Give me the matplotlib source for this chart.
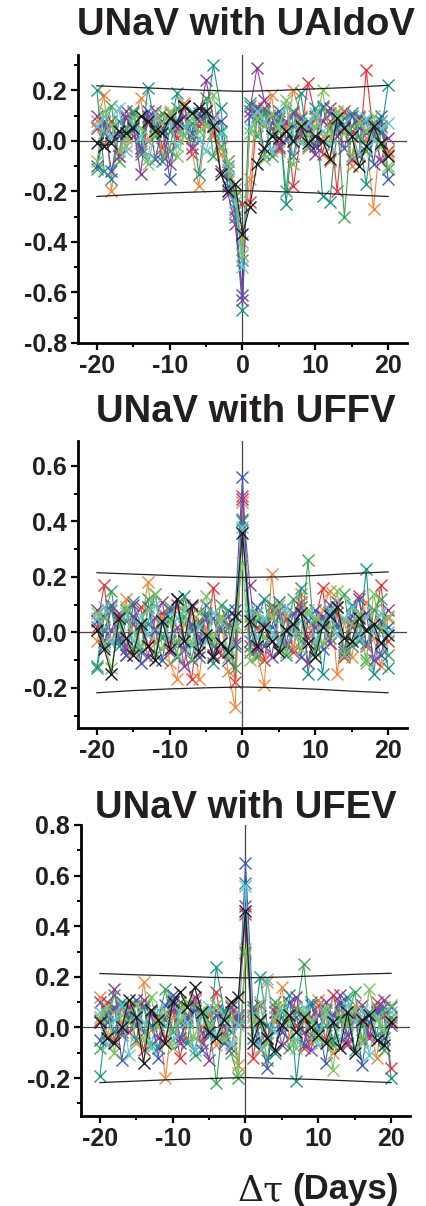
import matplotlib
matplotlib.use("Agg")
import matplotlib.pyplot as plt
from matplotlib.ticker import MultipleLocator

plt.rcParams['font.family'] = ['Liberation Sans', 'DejaVu Sans']
plt.rcParams['axes.unicode_minus'] = False

lags = list(range(-20, 21))

# confidence band sampled at a few lags
band_lags = [-20, -15, -10, -5, 0, 5, 10, 15, 20]
band_up_1 = [0.218, 0.212, 0.206, 0.200, 0.196, 0.200, 0.206, 0.212, 0.220]
band_lo_1 = [-0.220, -0.212, -0.206, -0.201, -0.197, -0.201, -0.206, -0.214, -0.220]
band_up_2 = [0.215, 0.210, 0.205, 0.200, 0.198, 0.200, 0.205, 0.212, 0.218]
band_lo_2 = [-0.218, -0.210, -0.204, -0.200, -0.197, -0.200, -0.205, -0.212, -0.218]
band_up_3 = [0.213, 0.208, 0.204, 0.198, 0.196, 0.199, 0.204, 0.210, 0.214]
band_lo_3 = [-0.218, -0.212, -0.206, -0.202, -0.198, -0.202, -0.206, -0.212, -0.218]

# Panel 1: UNaV with UAldoV
aldo_red = [0.05, -0.02, 0.08, -0.06, 0.10, 0.02, -0.04, 0.07, 0.12, -0.03,
            0.09, 0.01, 0.14, -0.05, 0.06, 0.10, 0.03, -0.02, -0.08, -0.22,
            -0.25,
            -0.24, 0.10, 0.13, 0.05, -0.02, 0.08, -0.18, 0.02, 0.23, 0.10,
            -0.05, 0.08, -0.20, 0.12, 0.04, -0.06, 0.28, 0.02, 0.06, -0.04]
aldo_orange = [0.08, 0.18, -0.20, 0.04, -0.02, 0.06, 0.17, 0.00, 0.09, -0.06,
               0.11, 0.04, 0.15, -0.03, -0.18, 0.07, 0.02, -0.05, -0.12, -0.28,
               -0.40,
               -0.15, 0.14, 0.06, 0.18, -0.04, 0.05, 0.20, 0.10, -0.03, 0.09,
               0.02, -0.08, 0.11, 0.05, -0.10, 0.07, 0.01, -0.27, 0.04, -0.05]
aldo_green = [-0.11, 0.03, 0.14, -0.08, 0.05, 0.12, -0.03, 0.09, 0.02, 0.11,
              -0.04, 0.13, 0.06, 0.01, 0.10, 0.17, -0.06, 0.04, -0.15, -0.22,
              -0.47,
              0.14, 0.02, 0.11, -0.06, 0.09, -0.20, 0.12, 0.03, 0.08, -0.02,
              0.13, 0.05, 0.09, -0.30, 0.06, 0.10, -0.04, 0.03, 0.08, -0.11]
aldo_teal = [0.20, -0.12, -0.15, 0.08, 0.03, 0.11, -0.05, 0.21, 0.06, -0.08,
             0.04, 0.19, 0.02, 0.07, -0.13, 0.10, 0.30, 0.13, -0.10, -0.30,
             -0.67,
             0.15, 0.08, 0.12, 0.02, 0.10, -0.25, 0.06, 0.19, -0.02, 0.13,
             -0.22, -0.24, 0.05, 0.09, 0.11, 0.02, -0.17, 0.07, 0.03, 0.22]
aldo_blue = [-0.10, 0.07, -0.12, 0.02, 0.09, 0.04, -0.03, 0.12, -0.07, 0.05,
             -0.15, 0.08, 0.14, 0.03, 0.11, 0.12, 0.06, 0.08, -0.18, -0.27,
             -0.61,
             0.10, 0.13, -0.05, 0.07, 0.12, 0.01, -0.06, 0.09, 0.04, -0.02,
             0.14, 0.11, 0.06, -0.03, 0.10, 0.05, 0.08, -0.09, 0.10, -0.15]
aldo_purple = [0.10, 0.08, 0.03, -0.06, 0.12, 0.06, -0.13, 0.10, 0.04, 0.08,
               -0.09, 0.05, 0.10, -0.03, 0.08, 0.24, 0.09, -0.12, -0.21, -0.33,
               -0.63,
               0.12, 0.29, 0.16, 0.10, -0.03, 0.07, 0.11, 0.04, 0.06, -0.05,
               0.08, 0.13, 0.02, 0.06, -0.07, 0.09, 0.03, 0.05, -0.08, 0.01]
aldo_black = [-0.01, -0.02, -0.01, 0.04, 0.03, 0.05, 0.10, 0.08, 0.04, 0.03,
              0.09, 0.07, 0.14, 0.11, 0.13, 0.12, 0.06, -0.13, -0.20, -0.17,
              -0.37,
              -0.26, -0.09, -0.03, 0.02, 0.01, 0.04, 0.00, 0.06, -0.01, 0.02,
              0.00, -0.07, 0.09, 0.05, 0.02, -0.10, -0.02, 0.06, -0.01, -0.06]
aldo_cyan = [0.06, 0.10, 0.01, 0.13, -0.04, 0.07, 0.02, -0.07, 0.11, 0.03,
             0.07, -0.02, 0.05, 0.12, 0.01, -0.04, 0.08, 0.03, -0.11, -0.24,
             -0.50,
             0.05, 0.12, 0.08, -0.04, 0.06, 0.14, 0.02, -0.01, 0.07, 0.11,
             0.04, -0.02, 0.10, 0.07, 0.02, -0.05, 0.09, 0.00, 0.05, 0.07]
aldo_lgreen = [-0.08, 0.12, 0.06, -0.04, 0.01, 0.09, 0.05, -0.09, 0.03, 0.07,
               0.12, -0.06, 0.02, 0.09, 0.04, 0.06, 0.18, -0.03, -0.08, -0.19,
               -0.45,
               0.03, 0.09, -0.07, 0.11, 0.04, 0.16, -0.09, 0.07, 0.02, 0.05,
               0.20, 0.01, 0.12, 0.03, -0.06, 0.08, 0.04, 0.10, -0.02, -0.10]

# Panel 2: UNaV with UFFV
ffv_red = [0.02, 0.17, -0.04, 0.06, -0.08, 0.03, 0.09, -0.05, 0.01, 0.07,
           -0.03, 0.10, -0.06, -0.17, 0.04, -0.02, 0.16, -0.08, 0.03, -0.18,
           0.49,
           -0.05, 0.02, -0.10, 0.08, -0.03, 0.05, -0.07, 0.11, -0.02, 0.04,
           0.16, -0.04, 0.07, -0.09, 0.02, 0.13, -0.05, 0.01, 0.17, -0.03]
ffv_orange = [-0.03, 0.05, 0.09, -0.02, 0.12, -0.07, 0.01, 0.18, -0.04, 0.06,
              -0.11, -0.17, 0.03, 0.07, -0.17, 0.02, -0.09, 0.05, -0.14, -0.27,
              0.47,
              0.03, -0.08, -0.19, 0.21, -0.03, 0.07, -0.06, 0.14, 0.02, -0.05,
              0.08, 0.15, -0.15, 0.04, -0.09, 0.06, 0.11, -0.02, -0.12, 0.05]
ffv_green = [-0.12, 0.06, 0.15, -0.03, 0.08, -0.06, 0.02, 0.12, -0.08, 0.04,
             0.09, -0.04, 0.06, -0.10, 0.03, 0.07, -0.05, 0.10, 0.02, -0.13,
             0.41,
             0.06, -0.09, 0.04, 0.10, -0.06, 0.01, 0.12, -0.03, 0.26, -0.07,
             0.05, -0.02, 0.09, 0.14, -0.05, 0.03, -0.10, 0.08, 0.12, -0.08]
ffv_teal = [-0.13, 0.01, 0.08, -0.05, 0.04, 0.11, -0.07, 0.03, 0.14, -0.02,
            0.05, -0.09, 0.13, 0.01, -0.04, 0.06, -0.11, 0.02, 0.08, -0.05,
            0.40,
            -0.07, 0.04, 0.12, -0.03, 0.06, -0.08, 0.02, 0.16, -0.15, 0.05,
            -0.15, 0.07, 0.02, -0.06, 0.10, -0.03, 0.23, -0.15, 0.04, -0.13]
ffv_blue = [0.04, -0.05, 0.10, -0.02, -0.08, 0.06, -0.11, 0.09, 0.01, -0.10,
            0.08, 0.12, -0.06, 0.03, -0.09, 0.10, 0.05, -0.04, -0.10, 0.08,
            0.56,
            -0.03, 0.09, -0.05, 0.02, 0.11, -0.04, 0.07, -0.09, 0.04, 0.08,
            -0.06, 0.10, 0.03, -0.07, 0.06, 0.12, -0.04, 0.01, -0.08, 0.02]
ffv_purple = [0.08, -0.03, 0.01, 0.07, -0.06, 0.10, 0.03, -0.09, 0.05, 0.11,
              -0.07, 0.02, -0.12, 0.09, -0.02, 0.05, -0.08, 0.01, 0.06, -0.04,
              0.48,
              0.17, -0.06, 0.03, -0.09, 0.08, -0.05, 0.01, 0.09, -0.11, 0.02,
              0.06, -0.04, 0.11, -0.08, 0.04, -0.02, 0.07, -0.10, 0.03, 0.08]
ffv_black = [0.01, -0.06, -0.15, 0.05, -0.02, -0.08, 0.03, -0.05, -0.10, 0.04,
             -0.06, 0.12, -0.03, 0.10, -0.07, -0.01, -0.09, -0.04, -0.07, 0.06,
             0.36,
             0.04, -0.05, 0.02, -0.03, -0.07, 0.01, 0.03, 0.07, -0.04, -0.09,
             0.02, 0.06, 0.09, -0.02, -0.03, 0.05, 0.01, 0.03, -0.04, -0.01]
ffv_cyan = [0.05, 0.09, -0.04, 0.02, 0.07, -0.03, 0.06, -0.01, 0.10, 0.03,
            -0.02, 0.05, 0.08, -0.05, 0.02, -0.03, 0.07, 0.04, -0.06, 0.03,
            0.38,
            0.08, -0.02, 0.05, 0.00, -0.04, 0.09, -0.01, 0.04, 0.07, -0.03,
            0.03, 0.08, -0.01, 0.05, 0.09, -0.02, 0.06, 0.01, 0.07, 0.00]
ffv_lgreen = [0.07, -0.04, -0.13, 0.03, 0.09, 0.00, -0.05, 0.08, 0.14, -0.06,
              0.04, -0.08, 0.10, -0.04, 0.07, 0.13, -0.02, 0.06, -0.09, 0.02,
              0.25,
              -0.10, 0.07, -0.02, 0.05, 0.10, -0.07, 0.03, -0.06, 0.08, 0.05,
              -0.04, 0.02, 0.15, -0.08, 0.03, 0.07, -0.11, 0.14, 0.01, 0.06]

# Panel 3: UNaV with UFEV
fev_red = [0.03, 0.10, -0.05, 0.08, -0.02, 0.04, -0.09, 0.06, 0.01, -0.04,
           0.07, -0.12, 0.02, 0.11, -0.06, 0.05, 0.14, -0.03, 0.06, 0.02,
           0.45,
           -0.12, 0.03, -0.06, 0.08, -0.02, 0.05, 0.01, -0.08, 0.04, 0.09,
           -0.05, 0.13, 0.03, -0.07, 0.06, 0.02, -0.04, 0.10, 0.05, -0.16]
fev_orange = [0.12, -0.03, 0.07, 0.02, 0.09, -0.06, 0.18, -0.01, 0.05, -0.20,
              0.04, 0.08, -0.05, 0.11, 0.00, 0.06, -0.07, 0.03, 0.09, -0.15,
              0.29,
              0.05, -0.09, 0.18, 0.02, 0.16, -0.04, 0.08, 0.03, -0.06, 0.11,
              0.04, -0.10, 0.07, 0.02, 0.09, -0.05, 0.01, -0.12, 0.06, 0.03]
fev_green = [-0.08, 0.04, 0.13, -0.03, 0.06, 0.01, 0.09, -0.07, 0.03, 0.15,
             -0.02, 0.10, 0.05, -0.11, 0.07, 0.02, -0.22, 0.06, -0.10, -0.20,
             0.30,
             0.07, 0.02, -0.13, 0.10, 0.04, -0.08, 0.06, 0.25, -0.03, 0.05,
             0.01, -0.07, 0.09, 0.03, 0.14, -0.05, 0.02, 0.08, -0.09, 0.04]
fev_teal = [-0.19, 0.06, -0.02, 0.10, 0.03, -0.05, 0.08, 0.01, -0.08, 0.04,
            0.11, 0.02, -0.06, 0.09, 0.05, -0.03, 0.24, 0.07, -0.02, 0.04,
            0.57,
            -0.04, 0.20, 0.01, -0.10, 0.06, 0.13, -0.21, 0.04, 0.10, -0.02,
            0.07, -0.05, 0.03, 0.12, -0.09, 0.01, 0.06, -0.03, 0.08, -0.20]
fev_blue = [-0.05, 0.02, 0.08, -0.13, 0.04, 0.11, -0.02, 0.06, -0.12, 0.09,
            0.13, -0.04, 0.03, 0.07, -0.09, 0.01, 0.05, -0.06, 0.08, 0.03,
            0.65,
            0.08, -0.05, -0.16, 0.06, -0.02, 0.10, 0.04, -0.07, 0.09, 0.01,
            -0.14, 0.05, 0.10, -0.03, 0.07, -0.15, 0.02, 0.06, -0.04, 0.08]
fev_purple = [0.10, 0.05, 0.15, -0.02, 0.08, 0.01, 0.11, 0.06, -0.04, 0.03,
              0.09, -0.06, 0.04, 0.12, -0.02, -0.13, 0.07, 0.01, -0.08, 0.05,
              0.48,
              0.02, 0.09, -0.04, 0.06, -0.07, 0.03, 0.12, -0.02, -0.09, 0.05,
              0.10, 0.02, 0.13, -0.06, 0.04, 0.09, -0.03, 0.07, 0.11, 0.01]
fev_black = [0.02, -0.04, -0.06, 0.00, 0.11, 0.04, -0.14, 0.07, 0.03, -0.06,
             0.10, 0.14, 0.08, 0.16, 0.06, -0.02, -0.04, 0.03, 0.10, 0.12,
             0.46,
             -0.06, 0.03, -0.04, -0.09, 0.01, 0.05, -0.02, 0.04, 0.00, -0.03,
             -0.06, 0.02, -0.08, 0.06, -0.10, 0.03, 0.05, -0.05, -0.07, 0.02]
fev_cyan = [0.06, -0.07, 0.03, 0.09, -0.11, 0.05, 0.02, -0.08, 0.07, 0.01,
            -0.05, 0.06, 0.02, -0.09, 0.04, 0.08, -0.03, 0.05, -0.07, 0.01,
            0.56,
            0.04, -0.08, 0.19, -0.02, 0.07, 0.01, -0.05, 0.08, 0.03, -0.07,
            0.06, 0.01, -0.05, 0.09, 0.02, 0.07, -0.11, 0.04, 0.00, 0.06]
fev_lgreen = [0.04, 0.08, -0.10, 0.05, 0.02, 0.09, -0.05, 0.12, 0.00, 0.06,
              -0.08, 0.03, 0.10, -0.04, 0.07, 0.01, 0.09, -0.05, 0.04, -0.18,
              0.31,
              0.02, 0.10, -0.06, 0.04, 0.09, 0.03, -0.08, 0.06, 0.02, -0.04,
              0.08, -0.17, 0.05, 0.01, 0.07, -0.06, 0.15, 0.03, -0.02, 0.09]

panels = [
    dict(title="UNaV with UAldoV",
         data=[aldo_red, aldo_orange, aldo_green, aldo_teal, aldo_blue,
               aldo_purple, aldo_cyan, aldo_lgreen, aldo_black],
         band=(band_up_1, band_lo_1), ylim=(-0.8, 0.34),
         yticks=[-0.8, -0.6, -0.4, -0.2, 0.0, 0.2],
         rect=[78, 55, 407, 343], title_y=25),
    dict(title="UNaV with UFFV",
         data=[ffv_red, ffv_orange, ffv_green, ffv_teal, ffv_blue,
               ffv_purple, ffv_cyan, ffv_lgreen, ffv_black],
         band=(band_up_2, band_lo_2), ylim=(-0.345, 0.69),
         yticks=[-0.2, 0.0, 0.2, 0.4, 0.6],
         rect=[78, 441, 407, 728], title_y=412),
    dict(title="UNaV with UFEV",
         data=[fev_red, fev_orange, fev_green, fev_teal, fev_blue,
               fev_purple, fev_cyan, fev_lgreen, fev_black],
         band=(band_up_3, band_lo_3), ylim=(-0.35, 0.8),
         yticks=[-0.2, 0.0, 0.2, 0.4, 0.6, 0.8],
         rect=[81, 825, 410, 1116], title_y=808),
]
series_order_colors = ['#e8333c', '#f4863a', '#3ca556', '#1f968a', '#3f5cb8',
                       '#8d3c9e', '#5cc6d3', '#7fc35c', '#1a1a1a']

W, H = 427, 1206
fig = plt.figure(figsize=(W / 100, H / 100), dpi=100)
text_color = '#231f20'

for p in panels:
    x0, y0, x1, y1 = p['rect']
    ax = fig.add_axes([x0 / W, 1 - y1 / H, (x1 - x0) / W, (y1 - y0) / H])
    ax.axhline(0, color='#444444', lw=0.9, zorder=1)
    ax.axvline(0, color='#444444', lw=0.9, zorder=1)
    for vals, c in zip(p['data'], series_order_colors):
        ax.plot(lags, vals, color=c, lw=0.8, marker='x', ms=8.5, mew=1.0,
                zorder=2)
    up, lo = p['band']
    ax.plot(band_lags, up, color='#222222', lw=0.9, zorder=3)
    ax.plot(band_lags, lo, color='#222222', lw=0.9, zorder=3)
    ax.set_xlim(-22.6, 22.6)
    ax.set_ylim(*p['ylim'])
    ax.set_xticks([-20, -10, 0, 10, 20])
    ax.xaxis.set_minor_locator(MultipleLocator(5))
    ax.set_yticks(p['yticks'])
    ax.yaxis.set_minor_locator(MultipleLocator(0.1))
    ax.set_yticklabels([f"{v:.1f}" for v in p['yticks']])
    for s in ['top', 'right']:
        ax.spines[s].set_visible(False)
    for s in ['left', 'bottom']:
        ax.spines[s].set_linewidth(2.0)
    ax.tick_params(which='major', direction='out', length=5, width=1.6,
                   labelsize=18, pad=3, labelcolor=text_color)
    ax.tick_params(which='minor', direction='out', length=3, width=1.4)
    for lab in ax.get_xticklabels() + ax.get_yticklabels():
        lab.set_fontweight('bold')
    fig.text(246 / W, 1 - p['title_y'] / H, p['title'], ha='center',
             va='center', fontsize=27.5, fontweight='bold', color=text_color)

fig.text(399 / W, 1 - 1190 / H, "(Days)", ha='right', va='center',
         fontsize=25, fontweight='bold', color=text_color)
fig.text(284 / W, 1 - 1190 / H, "Δτ", ha='right', va='center',
         fontsize=26, color=text_color, family=['DejaVu Serif'])

fig.savefig("out.png", dpi=100)
